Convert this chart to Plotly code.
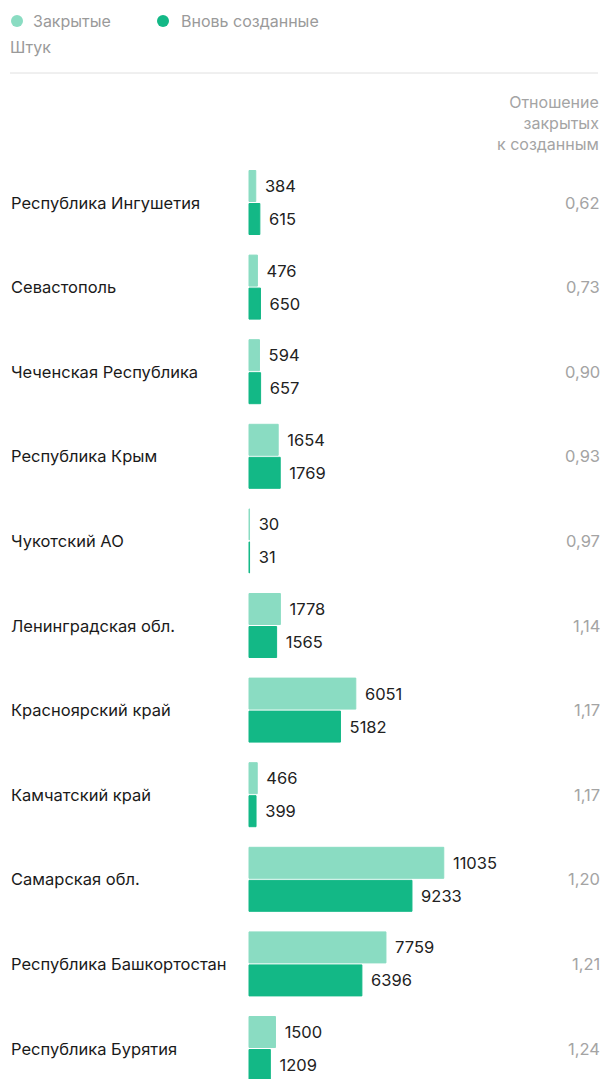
import plotly.graph_objects as go

regions = ["Республика Ингушетия", "Севастополь", "Чеченская Республика", "Республика Крым",
           "Чукотский АО", "Ленинградская обл.", "Красноярский край", "Камчатский край",
           "Самарская обл.", "Республика Башкортостан", "Республика Бурятия"]
closed = [384, 476, 594, 1654, 30, 1778, 6051, 466, 11035, 7759, 1500]
created = [615, 650, 657, 1769, 31, 1565, 5182, 399, 9233, 6396, 1209]
ratios = ["0,62", "0,73", "0,90", "0,93", "0,97", "1,14", "1,17", "1,17", "1,20", "1,21", "1,24"]

C_CLOSED = "#8adcc2"
C_NEW = "#13b886"
FONT = "Inter"
FS = 16.5

W, H = 603, 1079
ROW_PX = 84.6
ROW0_PX = 202.5
X0_PX = 249
SCALE = 0.01765  # px per unit

idx = list(range(len(regions)))
off = 16.5 / ROW_PX
bw = 31.0 / ROW_PX
PAD = " \u200a"

fig = go.Figure()
fig.add_trace(go.Bar(
    y=[i - off for i in idx], x=closed, orientation="h", width=bw,
    marker=dict(color=C_CLOSED, line=dict(color=C_CLOSED, width=1)),
    text=[PAD + str(v) for v in closed], textposition="outside",
    textfont=dict(family=FONT, size=FS, color="#222222"),
    constraintext="none", cliponaxis=False, name="Закрытые", hoverinfo="skip"))
fig.add_trace(go.Bar(
    y=[i + off for i in idx], x=created, orientation="h", width=bw,
    marker=dict(color=C_NEW, line=dict(color=C_NEW, width=1)),
    text=[PAD + str(v) for v in created], textposition="outside",
    textfont=dict(family=FONT, size=FS, color="#222222"),
    constraintext="none", cliponaxis=False, name="Вновь созданные", hoverinfo="skip"))

ymin = -ROW0_PX / ROW_PX
ymax = (H - ROW0_PX) / ROW_PX
xmin = -X0_PX / SCALE
xmax = (W - X0_PX) / SCALE

ann = []
for i, (r, q) in enumerate(zip(regions, ratios)):
    ann.append(dict(x=9 / W, xref="paper", y=i, yref="y", text=r, showarrow=False,
                    xanchor="left", yanchor="middle",
                    font=dict(family=FONT, size=FS, color="#1a1a1a")))
    ann.append(dict(x=602 / W, xref="paper", y=i, yref="y", text=q, showarrow=False,
                    xanchor="right", yanchor="middle",
                    font=dict(family=FONT, size=FS, color="#a4a4a4")))

def py(px):
    return 1 - px / H

# legend
ann.append(dict(x=30.5 / W, xref="paper", y=py(21), yref="paper", text="Закрытые", showarrow=False,
                xanchor="left", yanchor="middle", font=dict(family=FONT, size=16, color="#9a9a9a")))
ann.append(dict(x=178.5 / W, xref="paper", y=py(21), yref="paper", text="Вновь созданные", showarrow=False,
                xanchor="left", yanchor="middle", font=dict(family=FONT, size=16, color="#9a9a9a")))
ann.append(dict(x=8 / W, xref="paper", y=py(47), yref="paper", text="Штук", showarrow=False,
                xanchor="left", yanchor="middle", font=dict(family=FONT, size=16, color="#9a9a9a")))
ann.append(dict(x=601 / W, xref="paper", y=py(123), yref="paper",
                text="Отношение<br>закрытых<br>к созданным", showarrow=False, align="right",
                xanchor="right", yanchor="middle", font=dict(family=FONT, size=16, color="#a4a4a4")))

shapes = [
    dict(type="circle", xref="paper", yref="paper", x0=11 / W, x1=23 / W, y0=py(27), y1=py(15),
         fillcolor=C_CLOSED, line=dict(width=0)),
    dict(type="circle", xref="paper", yref="paper", x0=157 / W, x1=169 / W, y0=py(27), y1=py(15),
         fillcolor=C_NEW, line=dict(width=0)),
    dict(type="line", xref="paper", yref="paper", x0=10 / W, x1=598 / W, y0=py(73), y1=py(73),
         line=dict(color="#e0e0e0", width=1)),
]

fig.update_layout(
    width=W, height=H, margin=dict(l=0, r=0, t=0, b=0),
    paper_bgcolor="white", plot_bgcolor="white", showlegend=False,
    barmode="overlay",
    xaxis=dict(range=[xmin, xmax], visible=False, fixedrange=True),
    yaxis=dict(range=[ymax, ymin], visible=False, fixedrange=True),
    annotations=ann, shapes=shapes,
    font=dict(family=FONT),
)

fig.write_html("out.html", config={"displayModeBar": False},
               post_script="document.body.style.margin='0';document.body.style.overflow='hidden';")
